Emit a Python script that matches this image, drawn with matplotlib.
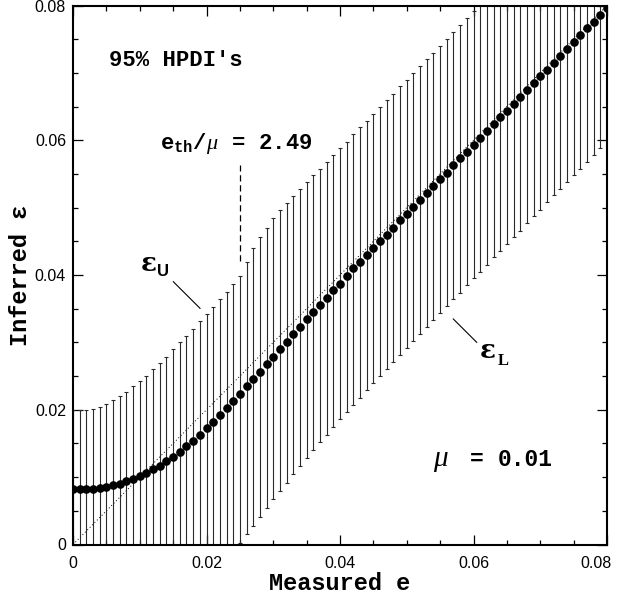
import numpy as np
import matplotlib
matplotlib.use("Agg")
import matplotlib.pyplot as plt
from matplotlib.lines import Line2D
from matplotlib.ticker import MultipleLocator
import matplotlib.transforms as mtransforms

plt.rcParams['mathtext.fontset'] = 'custom'
plt.rcParams['mathtext.rm'] = 'Liberation Serif'
plt.rcParams['mathtext.it'] = 'Liberation Serif:italic'
plt.rcParams['mathtext.bf'] = 'Liberation Mono:bold'

# ---- data ----
measured_e = np.round(np.arange(81) * 0.001, 3)

inferred_mode = [
    0.0082, 0.0082, 0.0082, 0.0083, 0.0084, 0.0086, 0.0088, 0.0090, 0.0094, 0.0097,
    0.0102, 0.0106, 0.0112, 0.0117, 0.0124, 0.0130, 0.0138, 0.0146, 0.0154, 0.0163,
    0.0173, 0.0182, 0.0192, 0.0202, 0.0213, 0.0224, 0.0235, 0.0246, 0.0256, 0.0268,
    0.0279, 0.0290, 0.0301, 0.0312, 0.0323, 0.0334, 0.0345, 0.0355, 0.0366, 0.0377,
    0.0387, 0.0399, 0.0410, 0.0419, 0.0429, 0.0440, 0.0450, 0.0460, 0.0470, 0.0481,
    0.0491, 0.0501, 0.0511, 0.0521, 0.0532, 0.0542, 0.0552, 0.0563, 0.0573, 0.0583,
    0.0593, 0.0603, 0.0614, 0.0624, 0.0634, 0.0644, 0.0654, 0.0664, 0.0675, 0.0685,
    0.0695, 0.0705, 0.0715, 0.0725, 0.0736, 0.0746, 0.0756, 0.0766, 0.0776, 0.0786,
    0.0797]

hpdi_upper = [
    0.0199, 0.0199, 0.0199, 0.0201, 0.0204, 0.0209, 0.0215, 0.0221, 0.0227, 0.0235,
    0.0242, 0.0250, 0.0260, 0.0270, 0.0279, 0.0290, 0.0300, 0.0310, 0.0320, 0.0332,
    0.0342, 0.0353, 0.0364, 0.0375, 0.0387, 0.0399, 0.0420, 0.0440, 0.0456, 0.0470,
    0.0484, 0.0496, 0.0507, 0.0517, 0.0527, 0.0538, 0.0548, 0.0558, 0.0568, 0.0578,
    0.0588, 0.0598, 0.0609, 0.0619, 0.0629, 0.0639, 0.0649, 0.0659, 0.0669, 0.0680,
    0.0690, 0.0700, 0.0710, 0.0720, 0.0730, 0.0740, 0.0750, 0.0760, 0.0771, 0.0781,
    0.0792, 0.0802, 0.0812, 0.0822, 0.0832, 0.0842, 0.0852, 0.0862, 0.0872, 0.0882,
    0.0892, 0.0902, 0.0912, 0.0922, 0.0932, 0.0942, 0.0952, 0.0962, 0.0972, 0.0982,
    0.0992]

hpdi_lower = [
    0.0, 0.0, 0.0, 0.0, 0.0, 0.0, 0.0, 0.0, 0.0, 0.0,
    0.0, 0.0, 0.0, 0.0, 0.0, 0.0, 0.0, 0.0, 0.0, 0.0,
    0.0, 0.0, 0.0, 0.0, 0.0, 0.0002, 0.0015, 0.0027, 0.0041, 0.0054,
    0.0067, 0.0079, 0.0092, 0.0105, 0.0117, 0.0129, 0.0140, 0.0152, 0.0163, 0.0174,
    0.0186, 0.0196, 0.0207, 0.0218, 0.0229, 0.0239, 0.0250, 0.0260, 0.0271, 0.0282,
    0.0291, 0.0302, 0.0312, 0.0323, 0.0333, 0.0344, 0.0354, 0.0364, 0.0374, 0.0385,
    0.0395, 0.0405, 0.0415, 0.0426, 0.0436, 0.0446, 0.0456, 0.0466, 0.0477, 0.0487,
    0.0497, 0.0508, 0.0518, 0.0528, 0.0538, 0.0548, 0.0558, 0.0568, 0.0578, 0.0588,
    0.0600]

threshold_e = 0.025
threshold_top = 0.0563
threshold_bottom = 0.0421

xtick_vals = [0, 0.02, 0.04, 0.06, 0.08]
xtick_labels = ['0', '0.02', '0.04', '0.06', '0.08']
ytick_vals = [0, 0.02, 0.04, 0.06, 0.08]
ytick_labels = ['0', '0.02', '0.04', '0.06', '0.08']

# ---- figure ----
W, H = 620, 601
fig = plt.figure(figsize=(W / 100, H / 100), dpi=100)
fig.patch.set_facecolor('white')

def fx(px):
    return px / W

def fy(py):
    return 1 - py / H

ax = fig.add_axes([fx(73), fy(544.5), (607 - 73) / W, (544.5 - 5.5) / H])

mode = np.array(inferred_mode)
lo = np.array(hpdi_lower)
hi = np.array(hpdi_upper)

ax.plot([0, 0.08], [0, 0.08], color='black', lw=0.7, ls=(0, (1, 2.5)), zorder=1)

ax.errorbar(measured_e, mode, yerr=[mode - lo, hi - mode], fmt='none',
            ecolor='#2a2a2a', elinewidth=0.8, capsize=1.6, capthick=0.8, zorder=2)
ax.plot(measured_e, mode, 'o', color='black', ms=5.2, zorder=3)

ax.plot([threshold_e, threshold_e], [threshold_bottom, threshold_top],
        color='black', lw=0.9, ls=(0, (5, 3)), zorder=2)

ax.set_xlim(0, 0.08)
ax.set_ylim(0, 0.08)
ax.set_xticks(xtick_vals)
ax.set_xticklabels(xtick_labels)
ax.set_yticks(ytick_vals)
ax.set_yticklabels(ytick_labels)
ax.xaxis.set_minor_locator(MultipleLocator(0.005))
ax.yaxis.set_minor_locator(MultipleLocator(0.005))
ax.tick_params(which='both', direction='in', top=True, right=True, width=0.9)
ax.tick_params(which='major', length=7.2)
ax.tick_params(which='minor', length=3.6)
ax.tick_params(axis='x', pad=8)
ax.tick_params(axis='y', pad=5)
for lab in ax.get_xticklabels() + ax.get_yticklabels():
    lab.set_fontfamily('Liberation Sans')
    lab.set_fontsize(11.5)
ax.get_xticklabels()[-1].set_horizontalalignment('right')
ax.get_xticklabels()[-1].set_transform(
    ax.get_xticklabels()[-1].get_transform()
    + mtransforms.ScaledTranslation(0.05, 0, fig.dpi_scale_trans))
for sp in ax.spines.values():
    sp.set_linewidth(1.5)

ax.set_xlabel('Measured e', family='Liberation Mono', weight='bold', size=17, labelpad=1)
ax.set_ylabel('Inferred ε', family=['Liberation Mono', 'DejaVu Sans Mono'],
              weight='bold', size=17, labelpad=2)

# ---- annotations ----
fig.text(fx(176), fy(60), "95% HPDI's", family='Liberation Mono', weight='bold',
         size=16, ha='center', va='center')
fig.text(fx(236), fy(143),
         r'$\mathbf{e}_{\mathbf{th}}\mathbf{/}\mu\ \ \mathbf{=}\ \ \mathbf{2.49}$',
         size=16, ha='center', va='center')

fig.text(fx(149), fy(263.5), 'ε', family='DejaVu Serif', weight='bold', size=19,
         ha='center', va='center')
fig.text(fx(163.5), fy(271), 'U', family='Liberation Sans', weight='bold', size=12,
         ha='center', va='center')
fig.add_artist(Line2D([fx(173.3), fx(200)], [fy(281.7), fy(308.3)], color='black', lw=0.8))

fig.text(fx(488), fy(351), 'ε', family='DejaVu Serif', weight='bold', size=19,
         ha='center', va='center')
fig.text(fx(503.5), fy(361), 'L', family='Liberation Serif', weight='bold', size=12,
         ha='center', va='center')
fig.add_artist(Line2D([fx(453.3), fx(476.7)], [fy(319), fy(342.3)], color='black', lw=0.8))

fig.text(fx(441), fy(460), r'$\mu$', size=21, ha='center', va='center')
fig.text(fx(477), fy(459), '=', family='Liberation Mono', weight='bold', size=16.5,
         ha='center', va='center')
fig.text(fx(498), fy(459), '0.01', family='Liberation Mono', weight='bold', size=16.5,
         ha='left', va='center')

fig.savefig('out.png', dpi=100)
